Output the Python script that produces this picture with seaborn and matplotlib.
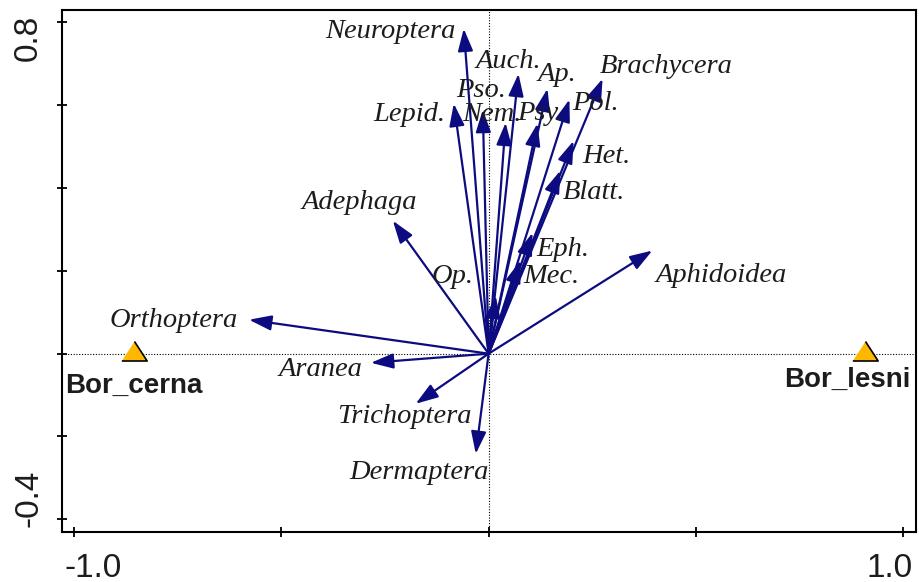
import matplotlib
matplotlib.use("Agg")
import matplotlib.pyplot as plt
import seaborn as sns
import pandas as pd

# Species (taxa) scores on the first two ordination axes
taxa = ["Neuroptera", "Lepid.", "Pso.", "Nem.", "Auch.", "Ap.", "Psy.", "Pol.",
        "Brachycera", "Het.", "Blatt.", "Eph.", "Mec.", "Op.", "Adephaga",
        "Aphidoidea", "Orthoptera", "Aranea", "Trichoptera", "Dermaptera"]
axis1 = [-0.060, -0.084, -0.014, 0.041, 0.072, 0.142, 0.118, 0.195,
         0.275, 0.205, 0.173, 0.106, 0.077, 0.017, -0.231,
         0.395, -0.578, -0.284, -0.176, -0.031]
axis2 = [0.785, 0.604, 0.589, 0.558, 0.676, 0.640, 0.556, 0.614,
         0.664, 0.514, 0.442, 0.292, 0.225, 0.140, 0.321,
         0.249, 0.082, -0.022, -0.121, -0.242]

# Sample (site) scores
sites = ["Bor_cerna", "Bor_lesni"]
site_axis1 = [-0.855, 0.908]
site_axis2 = [0.0, 0.0]

x_ticks = [-1.0, -0.5, 0.0, 0.5, 1.0]
y_ticks = [-0.4, -0.2, 0.0, 0.2, 0.4, 0.6, 0.8]

# Label placement relative to the arrow tip (pixels: right, up)
label_offsets = {
    "Neuroptera": (-73, -9), "Lepid.": (-44, -17), "Pso.": (-2, 13),
    "Nem.": (-14, 2), "Auch.": (-10, 6), "Ap.": (9, 8), "Psy.": (3, 3),
    "Pol.": (26, -11), "Brachycera": (64, 6), "Het.": (33, -22),
    "Blatt.": (34, -28), "Eph.": (30, -23), "Mec.": (31, -22),
    "Op.": (-43, 13), "Adephaga": (-34, 12), "Aphidoidea": (69, -31),
    "Orthoptera": (-75, -7), "Aranea": (-50, -13), "Trichoptera": (-11, -19),
    "Dermaptera": (-57, -25),
}
site_offsets = {"Bor_cerna": (0, -39), "Bor_lesni": (-18, -33)}

sns.set_theme(style="ticks")
plt.rcParams["font.family"] = ["Liberation Sans", "DejaVu Sans"]

arrow_color = "#0c0c80"
text_color = "#1c1c1c"

fig = plt.figure(figsize=(9.19, 5.82), dpi=100)
ax = fig.add_axes([0.0671, 0.0864, 0.9296, 0.8964])
ax.set_xlim(-1.030, 1.031)
ax.set_ylim(-0.430, 0.830)

# Dotted reference lines through the origin
ax.axhline(0, color="black", lw=0.8, ls=(0, (1, 1.5)), zorder=0)
ax.axvline(0, color="black", lw=0.8, ls=(0, (1, 1.5)), zorder=0)

# Species arrows
for name, x, y in zip(taxa, axis1, axis2):
    ax.annotate("", xy=(x, y), xytext=(0, 0),
                arrowprops=dict(arrowstyle="-|>,head_length=0.68,head_width=0.23",
                                mutation_scale=20, color=arrow_color, lw=1.6,
                                shrinkA=0, shrinkB=0), zorder=3)
    dx, dy = label_offsets[name]
    ax.annotate(name, xy=(x, y), xytext=(dx, dy), textcoords="offset pixels",
                ha="center", va="baseline", fontsize=20.5, fontstyle="italic",
                family="Liberation Serif", color=text_color, zorder=4)

# Sample triangles (centroid sits on the score)
tri = [(-1.3, -2 / 3), (1.3, -2 / 3), (0, 4 / 3)]
sites_df = pd.DataFrame({"site": sites, "axis1": site_axis1, "axis2": site_axis2})
sns.scatterplot(data=sites_df, x="axis1", y="axis2", marker=tri, s=350,
                color="#FFB800", edgecolor="black", linewidth=1.2, ax=ax,
                zorder=5, legend=False)
for name, x, y in zip(sites, site_axis1, site_axis2):
    dx, dy = site_offsets[name]
    ax.annotate(name, xy=(x, y), xytext=(dx, dy), textcoords="offset pixels",
                ha="center", va="baseline", fontsize=20, fontweight="bold",
                color=text_color, zorder=6)

# Frame and ticks
for side in ["left", "right", "top", "bottom"]:
    ax.spines[side].set_visible(True)
    ax.spines[side].set_color("black")
    ax.spines[side].set_linewidth(1.5)
ax.set_xticks(x_ticks)
ax.set_yticks(y_ticks)
ax.set_xticklabels([])
ax.set_yticklabels([])
ax.tick_params(direction="inout", length=7, width=1.3, color="black",
               top=False, right=False)
ax.set_xlabel("")
ax.set_ylabel("")

# Only the end ticks carry labels, nudged inward
tick_font = dict(fontsize=24, color=text_color)
ax.annotate("-1.0", xy=(x_ticks[0], 0), xycoords=("data", "axes fraction"),
            xytext=(19, -45), textcoords="offset pixels", ha="center",
            va="baseline", **tick_font)
ax.annotate("1.0", xy=(x_ticks[-1], 0), xycoords=("data", "axes fraction"),
            xytext=(-14, -45), textcoords="offset pixels", ha="center",
            va="baseline", **tick_font)
ax.annotate("0.8", xy=(0, y_ticks[-1]), xycoords=("axes fraction", "data"),
            xytext=(-33, -15), textcoords="offset pixels", ha="center",
            va="center", rotation=90, **tick_font)
ax.annotate("-0.4", xy=(0, y_ticks[0]), xycoords=("axes fraction", "data"),
            xytext=(-33, 21), textcoords="offset pixels", ha="center",
            va="center", rotation=90, **tick_font)

fig.savefig("out.png", dpi=100, facecolor="white")
